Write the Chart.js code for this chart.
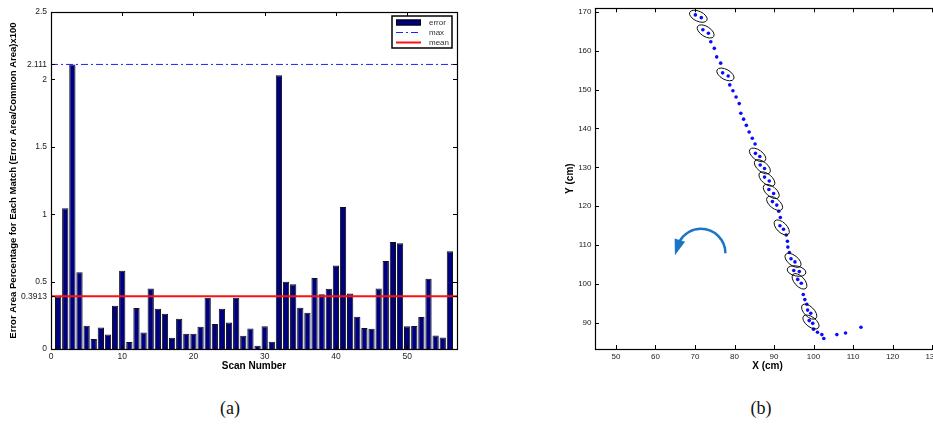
<!DOCTYPE html>
<html>
<head>
<meta charset="utf-8">
<script src="https://cdn.jsdelivr.net/npm/chart.js@4.4.1/dist/chart.umd.min.js"></script>
<style>
html, body { margin:0; padding:0; background:#fff; overflow:hidden; width:933px; height:438px; }
#wrapA { position:absolute; left:0; top:0; width:470px; height:380px; }
#wrapB { position:absolute; left:540px; top:0; width:420px; height:380px; }
.cap { position:absolute; top:398px; width:60px; text-align:center; font-family:"Liberation Serif", "DejaVu Serif", serif; font-size:18px; color:#111; }
</style>
</head>
<body>
<div id="wrapA"><canvas id="chartA" width="470" height="380"></canvas></div>
<div id="wrapB"><canvas id="chartB" width="420" height="380"></canvas></div>
<div class="cap" style="left:200px">(a)</div>
<div class="cap" style="left:731px">(b)</div>
<script>
// panel (a): error per scan
const scanNumbers = [1,2,3,4,5,6,7,8,9,10,11,12,13,14,15,16,17,18,19,20,21,22,23,24,25,26,27,28,
  29,30,31,32,33,34,35,36,37,38,39,40,41,42,43,44,45,46,47,48,49,50,51,52,53,54,55,56];
const errorValues = [0.39,1.044,2.111,0.57,0.173,0.074,0.16,0.108,0.321,0.58,
  0.052,0.304,0.123,0.449,0.299,0.262,0.084,0.224,0.113,0.113,
  0.165,0.38,0.185,0.299,0.197,0.38,0.098,0.153,0.024,0.168,
  0.054,2.03,0.499,0.481,0.306,0.269,0.526,0.407,0.447,0.619,
  1.054,0.412,0.239,0.155,0.15,0.449,0.652,0.793,0.785,0.168,
  0.17,0.237,0.521,0.101,0.086,0.726];
const maxValue = 2.111;
const meanValue = 0.3913;
const yTicksA = [0, 0.3913, 0.5, 1, 1.5, 2, 2.111, 2.5];
const xTicksA = [0, 10, 20, 30, 40, 50];

// panel (b): trajectory
const pathX = [70.1,71.6,72.0,73.4,74.0,74.9,75.5,76.5,77.0,78.4,78.8,79.6,80.4,81.2,81.6,82.3,83.0,83.7,84.5,85.2,
  85.3,86.4,86.5,87.6,87.6,88.8,88.7,89.9,89.6,90.7,91.2,91.6,91.5,92.4,93.1,93.4,93.5,93.9,94.3,95.3,
  95.0,96.4,96.0,96.9,97.4,97.8,98.3,98.5,99.3,98.9,99.8,100.0,101.0,102.1,102.6,105.9,108.1,112.0];
const pathY = [169.2,168.5,165.4,164.5,162.3,160.6,158.4,156.8,154.3,153.5,151.2,149.7,148.1,146.4,143.9,142.4,140.8,139.1,137.5,136.0,
  133.6,132.8,130.6,129.7,127.5,126.5,124.3,123.3,121.2,120.3,118.7,117.1,115.0,114.1,112.6,111.0,109.5,108.1,106.5,105.7,
  103.5,103.2,101.2,100.2,97.3,96.0,94.8,93.3,92.5,90.6,89.9,88.4,87.6,87.0,86.0,87.0,87.4,88.9];
const ellipsePairs = [[0,1],[2,3],[8,9],[20,21],[22,23],[24,25],[26,27],[28,29],[32,33],[38,39],[40,41],[42,43],[47,48],[49,50]];
const xTicksB = [50, 60, 70, 80, 90, 100, 110, 120, 130];
const yTicksB = [90, 100, 110, 120, 130, 140, 150, 160, 170];
const arrowCenter = [71.5, 107.9];

Chart.defaults.font.family = '"Liberation Sans", Arial, sans-serif';
Chart.defaults.font.size = 8;
Chart.defaults.color = '#222';

// matlab-like box with inward ticks on all four sides
const boxPlugin = {
  id: 'box',
  afterDatasetsDraw(chart) {
    const {ctx, chartArea: a, scales} = chart;
    const t = 4;
    ctx.save();
    ctx.strokeStyle = '#000';
    ctx.lineWidth = 1;
    ctx.beginPath();
    scales.x.ticks.forEach(tk => {
      const px = Math.round(scales.x.getPixelForValue(tk.value)) + 0.5;
      ctx.moveTo(px, a.bottom); ctx.lineTo(px, a.bottom - t);
      ctx.moveTo(px, a.top); ctx.lineTo(px, a.top + t);
    });
    scales.y.ticks.forEach(tk => {
      const py = Math.round(scales.y.getPixelForValue(tk.value)) + 0.5;
      ctx.moveTo(a.left, py); ctx.lineTo(a.left + t, py);
      ctx.moveTo(a.right, py); ctx.lineTo(a.right - t, py);
    });
    ctx.stroke();
    ctx.lineWidth = 1.2;
    ctx.strokeRect(Math.round(a.left) + 0.5, Math.round(a.top) + 0.5, Math.round(a.right - a.left), Math.round(a.bottom - a.top));
    ctx.restore();
  }
};

// legend box inside top right corner of panel (a)
const legendBoxPlugin = {
  id: 'legendBox',
  afterDraw(chart) {
    const {ctx, chartArea: a} = chart;
    const x0 = a.right - 65, y0 = a.top + 4, w = 60, h = 32;
    ctx.save();
    ctx.fillStyle = '#fff';
    ctx.fillRect(x0, y0, w, h);
    ctx.strokeStyle = '#000';
    ctx.lineWidth = 1.5;
    ctx.strokeRect(x0, y0, w, h);
    chart.data.datasets.forEach((ds, i) => {
      const cy = y0 + 6.5 + i * 10;
      const sx = x0 + 4, ex = x0 + 29;
      if (ds.type === 'bar') {
        ctx.fillStyle = ds.backgroundColor;
        ctx.fillRect(sx, cy - 3, ex - sx, 6);
        ctx.lineWidth = 1;
        ctx.strokeStyle = '#000';
        ctx.strokeRect(sx + 0.5, cy - 2.5, ex - sx - 1, 5);
      } else {
        ctx.strokeStyle = ds.borderColor;
        ctx.lineWidth = ds.borderWidth;
        ctx.setLineDash(ds.borderDash || []);
        ctx.beginPath();
        ctx.moveTo(sx, cy); ctx.lineTo(ex, cy);
        ctx.stroke();
        ctx.setLineDash([]);
      }
      ctx.fillStyle = '#333';
      ctx.font = '8px "Liberation Sans", Arial, sans-serif';
      ctx.textBaseline = 'middle';
      ctx.fillText(ds.label, x0 + 37, cy);
    });
    ctx.restore();
  }
};

new Chart(document.getElementById('chartA'), {
  type: 'bar',
  data: {
    datasets: [
      {
        type: 'bar', label: 'error',
        data: scanNumbers.map((s, i) => ({x: s, y: errorValues[i]})),
        backgroundColor: '#00007f', borderColor: '#111', borderWidth: 1,
        barPercentage: 0.88, categoryPercentage: 1, order: 3
      },
      {
        type: 'line', label: 'max',
        data: [{x: 0, y: maxValue}, {x: 57, y: maxValue}],
        borderColor: '#1f1fff', borderWidth: 1, borderDash: [7, 3, 2, 3],
        pointRadius: 0, order: 2
      },
      {
        type: 'line', label: 'mean',
        data: [{x: 0, y: meanValue}, {x: 57, y: meanValue}],
        borderColor: '#ff1010', borderWidth: 2,
        pointRadius: 0, order: 1
      }
    ]
  },
  options: {
    responsive: false, animation: false,
    layout: {padding: {top: 12, right: 13, left: 0, bottom: 0}},
    plugins: {legend: {display: false}, tooltip: {enabled: false}},
    scales: {
      x: {
        type: 'linear', min: 0, max: 57, offset: false,
        grid: {display: false, drawTicks: false}, border: {display: false},
        afterBuildTicks: s => { s.ticks = xTicksA.map(v => ({value: v})); },
        afterFit: s => { s.height = 31; },
        ticks: {padding: 3, maxRotation: 0, font: {size: 8.5}, callback: v => String(v)},
        title: {display: true, text: 'Scan Number', color: '#000',
          font: {size: 10, weight: 'bold'}, padding: {top: 0, bottom: 7.5}}
      },
      y: {
        min: 0, max: 2.5,
        grid: {display: false, drawTicks: false}, border: {display: false},
        afterBuildTicks: s => { s.ticks = yTicksA.map(v => ({value: v})); },
        afterFit: s => { s.width = 51; },
        ticks: {padding: 4, font: {size: 8.5}, callback: v => String(v)},
        title: {display: true, text: 'Error Area Percentage for Each Match (Error Area/Common Area)x100', color: '#000',
          font: {size: 9.5, weight: 'bold'}, padding: {top: 7.8, bottom: 0}}
      }
    }
  },
  plugins: [boxPlugin, legendBoxPlugin]
});

// ellipses round the paired points plus the turning arrow
const markPlugin = {
  id: 'marks',
  afterDatasetsDraw(chart) {
    const {ctx, scales: {x: sx, y: sy}} = chart;
    ctx.save();
    ctx.strokeStyle = '#111';
    ctx.lineWidth = 1;
    ellipsePairs.forEach(([i, j]) => {
      const x1 = sx.getPixelForValue(pathX[i]), y1 = sy.getPixelForValue(pathY[i]);
      const x2 = sx.getPixelForValue(pathX[j]), y2 = sy.getPixelForValue(pathY[j]);
      const ang = Math.atan2(y2 - y1, x2 - x1);
      ctx.beginPath();
      ctx.ellipse((x1 + x2) / 2, (y1 + y2) / 2, 9.5, 5, ang, 0, Math.PI * 2);
      ctx.stroke();
    });
    // arrow
    const cx = sx.getPixelForValue(arrowCenter[0]), cy = sy.getPixelForValue(arrowCenter[1]);
    const r = 24.5;
    const endA = -(Math.PI - 0.5);
    ctx.strokeStyle = '#1b75c4';
    ctx.fillStyle = '#1b75c4';
    ctx.lineWidth = 2.5;
    ctx.beginPath();
    ctx.arc(cx, cy, r, 0, endA, true);
    ctx.stroke();
    const ex = cx + r * Math.cos(endA), ey = cy + r * Math.sin(endA);
    const tx = cx - r - 1.5, ty = cy + 2;
    const dx = tx - ex, dy = ty - ey, len = Math.hypot(dx, dy);
    const nx = -dy / len * 5.5, ny = dx / len * 5.5;
    const bx = ex - dx / len * 1.5, by = ey - dy / len * 1.5;
    ctx.beginPath();
    ctx.moveTo(tx, ty);
    ctx.lineTo(bx + nx, by + ny);
    ctx.lineTo(bx - nx, by - ny);
    ctx.closePath();
    ctx.fill();
    ctx.restore();
  }
};

new Chart(document.getElementById('chartB'), {
  type: 'scatter',
  data: {
    datasets: [{
      label: 'path',
      data: pathX.map((x, i) => ({x: x, y: pathY[i]})),
      backgroundColor: '#0a0aff', borderWidth: 0, pointRadius: 1.8
    }]
  },
  options: {
    responsive: false, animation: false,
    layout: {padding: {top: 3, right: 20, left: 0, bottom: 0}},
    plugins: {legend: {display: false}, tooltip: {enabled: false}},
    scales: {
      x: {
        type: 'linear', min: 44.7, max: 132,
        grid: {display: false, drawTicks: false}, border: {display: false},
        afterBuildTicks: s => { s.ticks = xTicksB.map(v => ({value: v})); },
        afterFit: s => { s.height = 31; },
        ticks: {padding: 3, maxRotation: 0, callback: v => String(v)},
        title: {display: true, text: 'X (cm)', color: '#000',
          font: {size: 10, weight: 'bold'}, padding: {top: 0, bottom: 7.3}}
      },
      y: {
        type: 'linear', min: 83.3, max: 170.9,
        grid: {display: false, drawTicks: false}, border: {display: false},
        afterBuildTicks: s => { s.ticks = yTicksB.map(v => ({value: v})); },
        afterFit: s => { s.width = 55; },
        ticks: {padding: 3.5, callback: v => String(v)},
        title: {display: true, text: 'Y (cm)', color: '#000',
          font: {size: 10, weight: 'bold'}, padding: {top: 24, bottom: 0}}
      }
    }
  },
  plugins: [boxPlugin, markPlugin]
});
</script>
</body>
</html>
